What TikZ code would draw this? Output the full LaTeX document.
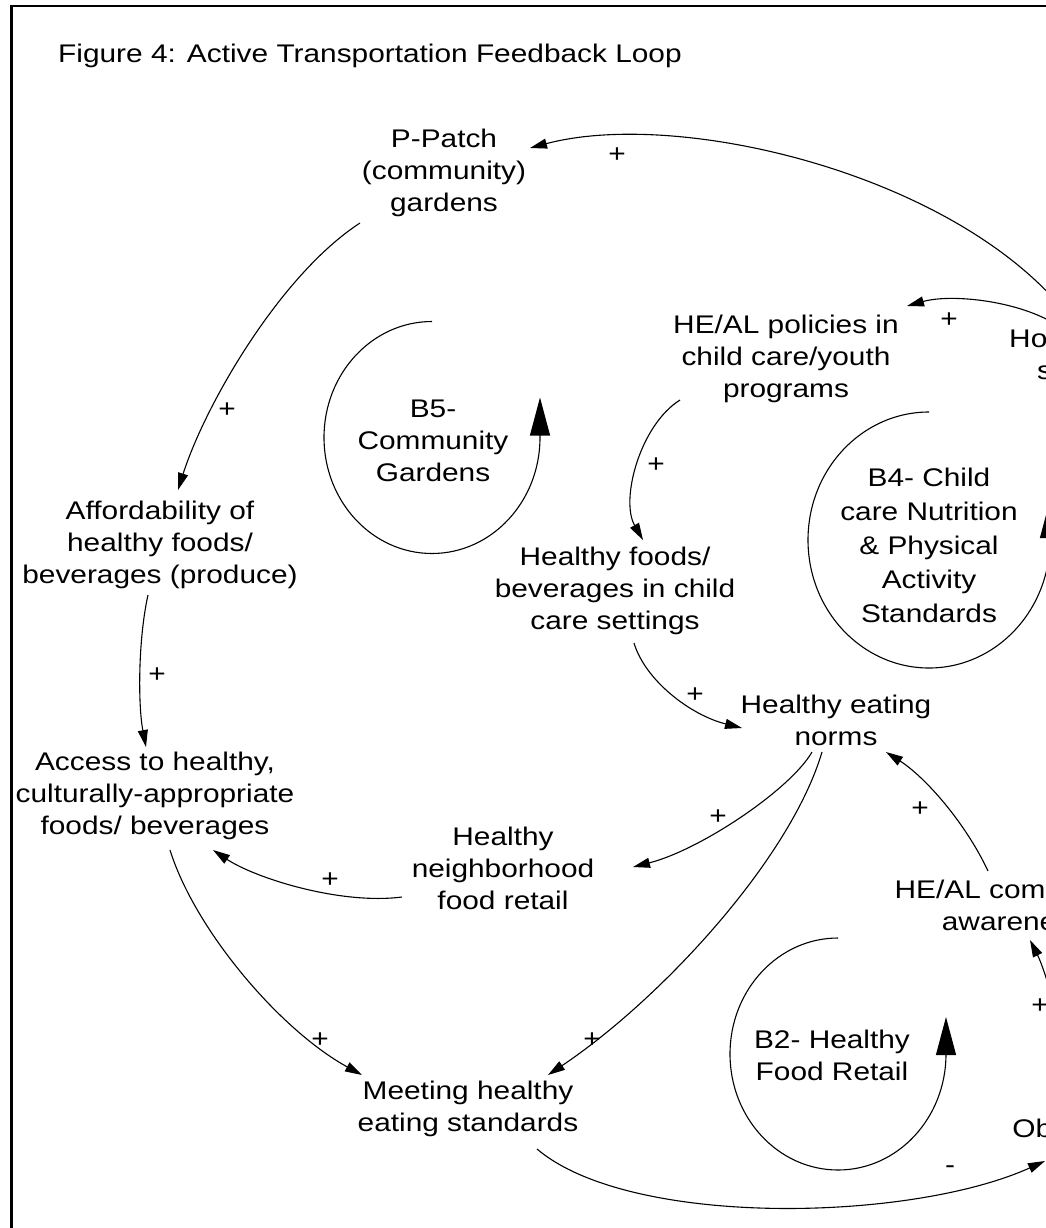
\documentclass[tikz,border=0pt]{standalone}
\usepackage{fontspec}
\setmainfont{Liberation Sans}[FakeStretch=1.17]
\usetikzlibrary{arrows.meta,calc}
\begin{document}
\begin{tikzpicture}[x=1pt,y=-1pt,
  lbl/.style={align=center,inner sep=2pt,font=\fontsize{25.5pt}{32pt}\selectfont},
  sgn/.style={inner sep=0pt,font=\fontsize{25.5pt}{32pt}\selectfont},
  conn/.style={line width=1.1pt,-{Triangle[length=17pt,width=10pt]}},
  loopar/.style={line width=1.1pt,-{Triangle[length=38pt,width=20pt]}},
  frame/.style={line width=2.5pt}]
\useasboundingbox (0,0) rectangle (1046,1228);
\clip (0,0) rectangle (1046,1228);
\draw[frame] (11.5,1240) -- (11.5,6) -- (1060,6);

\node[sgn,anchor=base west] (title) at (58,63) {Figure 4: Active Transportation Feedback Loop};

\node[lbl] (ppatch) at (444,173) {P-Patch\\(community)\\gardens};
\node[lbl] (afford) at (160,545) {Affordability of\\healthy foods/\\beverages (produce)};
\node[lbl] (access) at (155,796) {Access to healthy,\\culturally-appropriate\\foods/ beverages};
\node[lbl] (hfoods) at (615,591) {Healthy foods/\\beverages in child\\care settings};
\node[lbl] (policies) at (786,359) {HE/AL policies in\\child care/youth\\programs};
\node[lbl,align=left,inner sep=0pt,anchor=north west] (ho) at (1009,330) {Ho\\\hspace*{28pt}s};
\node[lbl] (b5) at (433,441) {B5-\\Community\\Gardens};
\node[lbl,font=\fontsize{25.5pt}{34pt}\selectfont] (b4) at (929,545) {B4- Child\\care Nutrition\\\& Physical\\Activity\\Standards};
\node[lbl] (norms) at (836,720) {Healthy eating\\norms};
\node[lbl] (retail) at (503,868) {Healthy\\neighborhood\\food retail};
\node[lbl] (comm) at (1014,905) {HE/AL community\\awareness};
\node[lbl] (b2) at (832,1055) {B2- Healthy\\Food Retail};
\node[lbl] (obesity) at (1063,1131) {Obesity};
\node[lbl] (meeting) at (468,1109) {Meeting healthy\\eating standards};

\draw[conn] ($(ho.north west)+(61,-12)$) .. controls (960,175) and (680,108) .. ($(ppatch)+(86,-25)$);
\draw[conn] ($(ho.north west)+(39,-10)$) .. controls (1010,300) and (950,294) .. ($(policies)+(121,-53)$);
\draw[conn] ($(ppatch)+(-84,50)$) .. controls (280,275) and (205,405) .. ($(afford)+(18,-55)$);
\draw[conn] ($(afford)+(-12,50)$) .. controls (138,640) and (138,705) .. ($(access)+(-9,-49)$);
\draw[conn] ($(policies)+(-106,41)$) .. controls (640,425) and (620,500) .. ($(hfoods)+(28,-51)$);
\draw[conn] ($(hfoods)+(19,52)$) .. controls (645,680) and (690,715) .. ($(norms)+(-94,8)$);
\draw[conn] ($(norms)+(-24,32)$) .. controls (790,790) and (700,850) .. ($(retail)+(130,-1)$);
\draw[conn] ($(norms)+(-14,32)$) .. controls (790,860) and (660,1000) .. ($(meeting)+(80,-34)$);
\draw[conn] ($(retail)+(-101,29)$) .. controls (340,905) and (255,878) .. ($(access)+(58,54)$);
\draw[conn] ($(access)+(15,54)$) .. controls (195,930) and (280,1030) .. ($(meeting)+(-106,-34)$);
\draw[conn] ($(comm)+(-26,-34)$) .. controls (965,822) and (925,777) .. ($(norms)+(50,32)$);
\draw[conn] ($(obesity)+(9,-30)$) .. controls (1066,1040) and (1046,972) .. ($(comm)+(16,35)$);
\draw[conn] ($(meeting)+(69,40)$) .. controls (630,1228) and (910,1222) .. ($(obesity)+(-18,30)$);

\node[sgn] (s1) at (617,155) {+};
\node[sgn] (s2) at (949,320) {+};
\node[sgn] (s3) at (227,410) {+};
\node[sgn] (s4) at (157,675) {+};
\node[sgn] (s5) at (656,465) {+};
\node[sgn] (s6) at (695,695) {+};
\node[sgn] (s7) at (718,817) {+};
\node[sgn] (s8) at (592,1040) {+};
\node[sgn] (s9) at (330,880) {+};
\node[sgn] (s10) at (320,1040) {+};
\node[sgn] (s11) at (920,809) {+};
\node[sgn] (s12) at (1040,1006) {+};
\node[sgn] (s13) at (950,1170) {-};

\draw[loopar] (432,321.5) arc[start angle=270,end angle=0,x radius=108,y radius=116] -- ++(0,-40);
\draw[loopar] (929,412) arc[start angle=270,end angle=0,x radius=121,y radius=128] -- ++(0,-40);
\draw[loopar] (838,938) arc[start angle=270,end angle=0,x radius=108,y radius=116] -- ++(0,-37);
\end{tikzpicture}
\end{document}
